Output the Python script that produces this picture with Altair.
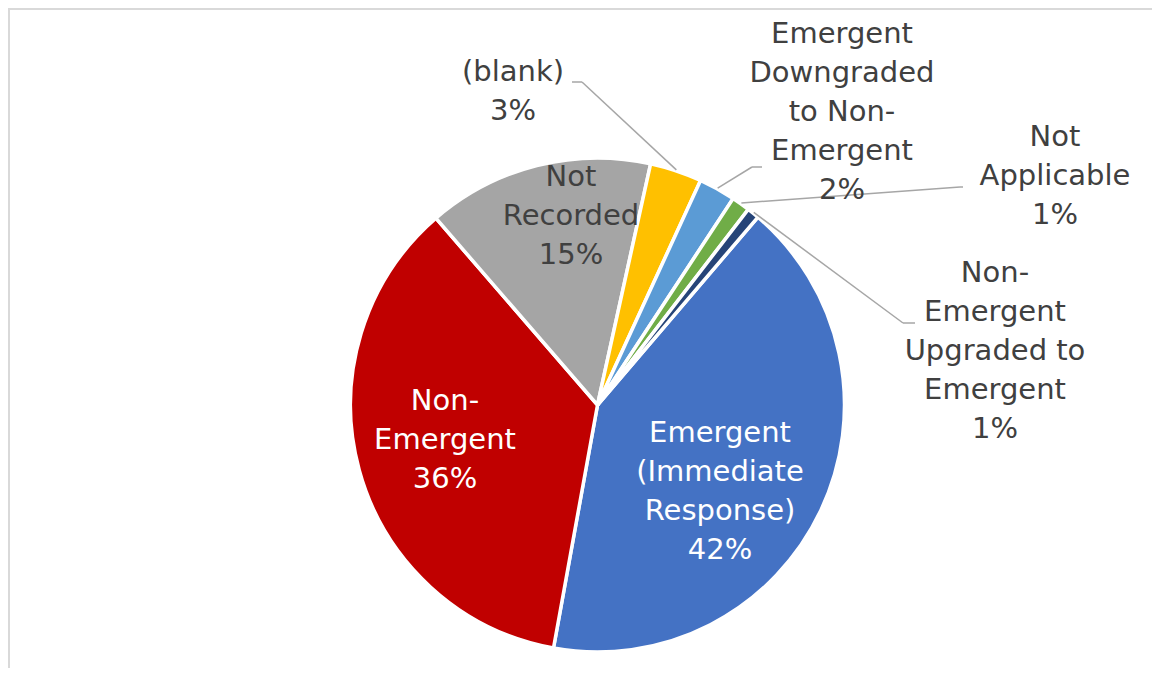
import math
import altair as alt
import pandas as pd

# ---------------- data ----------------
categories = [
    "Emergent (Immediate Response)",
    "Non-Emergent",
    "Not Recorded",
    "(blank)",
    "Emergent Downgraded to Non-Emergent",
    "Not Applicable",
    "Non-Emergent Upgraded to Emergent",
]
values = [41.6, 35.8, 14.8, 3.4, 2.4, 1.2, 0.8]
label_lines = [
    ["Emergent", "(Immediate", "Response)"],
    ["Non-", "Emergent"],
    ["Not", "Recorded"],
    ["(blank)"],
    ["Emergent", "Downgraded", "to Non-", "Emergent"],
    ["Not", "Applicable"],
    ["Non-", "Emergent", "Upgraded to", "Emergent"],
]
colors = ["#4472C4", "#C00000", "#A5A5A5", "#FFC000", "#5B9BD5", "#70AD47", "#264478"]
text_colors = ["#FFFFFF", "#FFFFFF", "#404040", "#404040", "#404040", "#404040", "#404040"]

# ---------------- layout ----------------
W, H = 1144, 660
CX, CY = 589.5, 397          # pie centre inside the view
R = 247
START_DEG = 40.5             # angle of first slice (clockwise from 12 o'clock)
LH = 39                      # label line height
FS = 29
FONT = "DejaVu Sans"
# label block centres relative to pie centre
label_offsets = [(122.5, 86.5), (-152.5, 35), (-26.5, -189.5), (-84.5, -314),
                 (244.5, -293), (457.5, -229), (397.5, -54)]
# leader lines: index -> (elbow dx, elbow dy, end dx, end dy) relative to pie centre
leaders = {
    3: (-15.5, -323, -25.5, -323),
    4: (154.5, -238, 164.5, -238),
    5: (362.5, -218, 365.5, -218),
    6: (305.5, -82, 317.5, -82),
}

# ---------------- tables ----------------
total = sum(values)
pie_df = pd.DataFrame({
    "category": categories,
    "value": values,
    "idx": list(range(len(values))),
    "color": colors,
})

text_rows = []
for i, (lines, v) in enumerate(zip(label_lines, values)):
    all_lines = lines + [f"{round(v)}%"]
    n = len(all_lines)
    dx, dy = label_offsets[i]
    for j, s in enumerate(all_lines):
        text_rows.append({
            "line": s,
            "x": CX + dx,
            "y": CY + dy + (j - (n - 1) / 2) * LH,
            "tcolor": text_colors[i],
        })
text_df = pd.DataFrame(text_rows)

seg_rows = []
cum = 0.0
for i, v in enumerate(values):
    mid = math.radians(START_DEG + (cum + v / 2) / total * 360)
    cum += v
    if i in leaders:
        ex, ey, fx, fy = leaders[i]
        sx = CX + (R + 1) * math.sin(mid)
        sy = CY - (R + 1) * math.cos(mid)
        seg_rows.append({"x": sx, "y": sy, "x2": CX + ex, "y2": CY + ey})
        seg_rows.append({"x": CX + ex, "y": CY + ey, "x2": CX + fx, "y2": CY + fy})
seg_df = pd.DataFrame(seg_rows)

xs = alt.Scale(domain=[0, W], nice=False, zero=False)
ys = alt.Scale(domain=[0, H], nice=False, zero=False, reverse=True)

a0 = math.radians(START_DEG)
pie = alt.Chart(pie_df).mark_arc(
    outerRadius=R, stroke="white", strokeWidth=3.5
).encode(
    theta=alt.Theta("value:Q", stack=True, scale=alt.Scale(range=[a0, a0 + 2 * math.pi])),
    order=alt.Order("idx:Q"),
    color=alt.Color("color:N", scale=None),
    x=alt.value(CX),
    y=alt.value(CY),
)

rules = alt.Chart(seg_df).mark_rule(color="#A6A6A6", strokeWidth=1.5).encode(
    x=alt.X("x:Q", scale=xs, axis=None),
    y=alt.Y("y:Q", scale=ys, axis=None),
    x2="x2:Q",
    y2="y2:Q",
)

texts = alt.Chart(text_df).mark_text(
    font=FONT, fontSize=FS, align="center", baseline="middle"
).encode(
    x=alt.X("x:Q", scale=xs, axis=None),
    y=alt.Y("y:Q", scale=ys, axis=None),
    text="line:N",
    color=alt.Color("tcolor:N", scale=None),
)

border_left = alt.Chart(pie_df).mark_rule(color="#D9D9D9", strokeWidth=2).encode(
    x=alt.value(1), y=alt.value(0), y2=alt.value(H)
)
border_top = alt.Chart(pie_df).mark_rule(color="#D9D9D9", strokeWidth=2).encode(
    x=alt.value(0), x2=alt.value(W), y=alt.value(1)
)

chart = alt.layer(border_left, border_top, pie, rules, texts).properties(
    width=W, height=H, padding=0, autosize="none", background="white"
).configure_view(stroke=None)

chart.save("out.html", embed_options={"renderer": "svg", "actions": False})
